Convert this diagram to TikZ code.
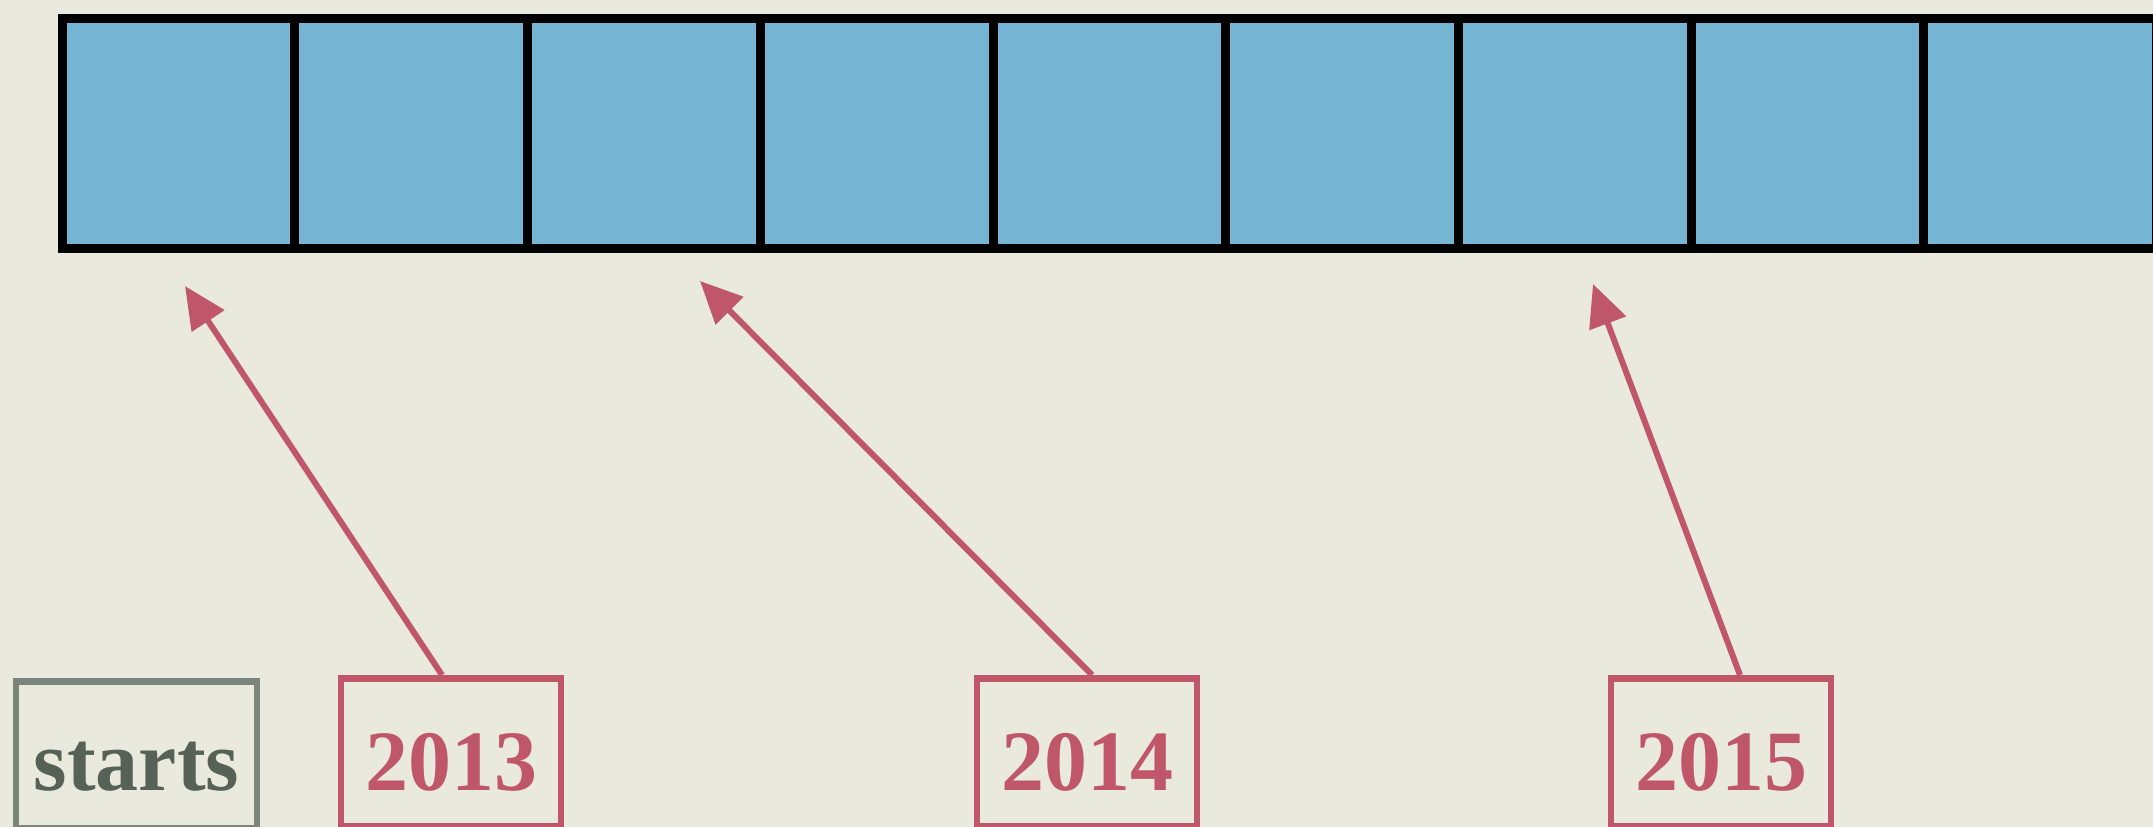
\documentclass[tikz,border=0pt]{standalone}
\usepackage{fontspec}
\setmainfont{Liberation Serif}
\usetikzlibrary{arrows.meta}
\definecolor{bg}{HTML}{E9E9DD}
\definecolor{cellblue}{HTML}{75B5D3}
\definecolor{yearred}{HTML}{C0566A}
\definecolor{startgray}{HTML}{7A867A}
\definecolor{starttext}{HTML}{566256}
\begin{document}
\begin{tikzpicture}[x=1pt,y=-1pt,
  cell/.style={draw=black, fill=cellblue, line width=9pt, minimum width=232.7pt, minimum height=230pt, inner sep=0pt, anchor=north west},
  yearbox/.style={draw=yearred, line width=6.5pt, text=yearred, font=\fontsize{86}{90}\selectfont\bfseries, minimum width=220pt, inner sep=0pt, text height=112pt, text depth=36pt, anchor=north},
  startbox/.style={draw=startgray, line width=6.5pt, text=starttext, font=\fontsize{86}{90}\selectfont\bfseries, minimum width=241pt, inner sep=0pt, text height=109pt, text depth=38pt, anchor=north},
  pointer/.style={draw=yearred, line width=6pt, -{Triangle[length=42pt,width=38pt]}}]
\fill[bg] (0,0) rectangle (2153,827);
\useasboundingbox (0,0) rectangle (2153,827);
\begin{scope}
\clip (0,0) rectangle (2153,827);
\foreach \i in {0,...,8} \node[cell] (c\i) at ({57.7+232.7*\i},14) {};
\node[startbox] (st) at (136.5,678) {starts};
\node[yearbox] (y13) at (451,675) {2013};
\node[yearbox] (y14) at (1087,675) {2014};
\node[yearbox] (y15) at (1721,675) {2015};
\coordinate (t13) at (185,286);
\coordinate (t14) at (700,281);
\coordinate (t15) at (1593,284);
\draw[pointer] ([xshift=-9pt]y13.north) -- (t13);
\draw[pointer] ([xshift=5pt]y14.north) -- (t14);
\draw[pointer] ([xshift=19pt]y15.north) -- (t15);
\end{scope}
\end{tikzpicture}
\end{document}
